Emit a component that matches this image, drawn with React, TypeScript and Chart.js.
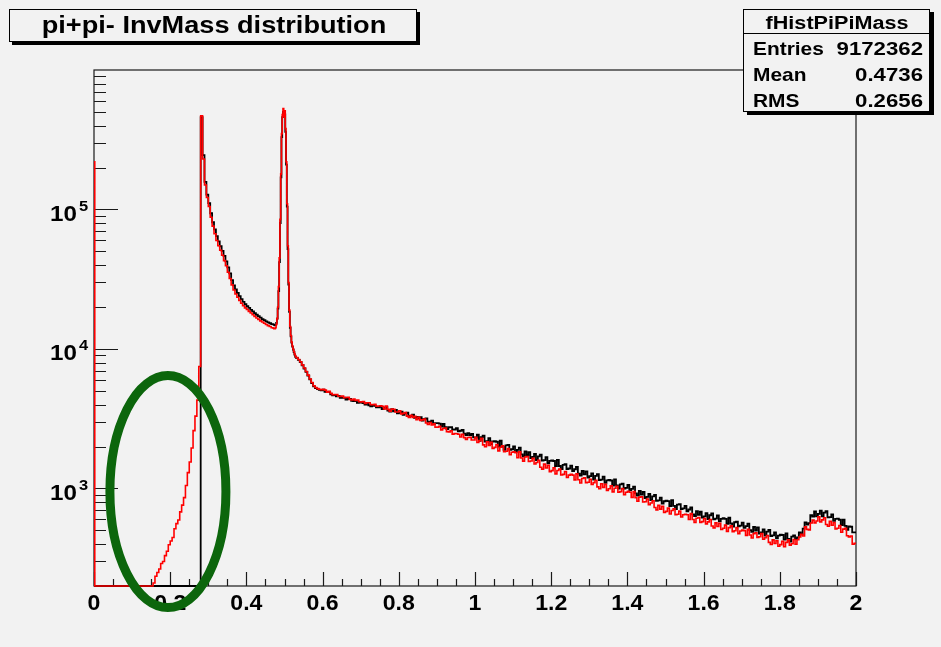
import React, { useEffect, useRef } from "react";
import { Chart, registerables } from "chart.js";

Chart.register(...registerables);

// ---------- axes ----------
const X_MIN = 0;
const X_MAX = 2;
const Y_MIN = 200;
const Y_MAX = 1e6;
const xTickValues = [0, 0.2, 0.4, 0.6, 0.8, 1, 1.2, 1.4, 1.6, 1.8, 2];
const xTickLabels = ["0", "0.2", "0.4", "0.6", "0.8", "1", "1.2", "1.4", "1.6", "1.8", "2"];
const yDecadeValues = [1e3, 1e4, 1e5];
const yDecadeExponents = ["3", "4", "5"];

// ---------- texts ----------
const titleText = "pi+pi- InvMass distribution";
const statsName = "fHistPiPiMass";
const statsLabels = ["Entries", "Mean", "RMS"];
const statsValues = ["9172362", "0.4736", "0.2656"];

// ---------- histogram contents (segments: first low edge, bin width, contents) ----------
const seg0Start = 0;
const seg0Width = 0.002;
const redSeg0 = [220000, 200];
const blackSeg0 = [200, 200];

const segAStart = 0.15;
const segAWidth = 0.005;
const redSegA = [200, 210, 235, 250, 265, 290, 300, 330, 355, 395, 420, 445, 515, 560, 595, 680, 760, 860, 1050, 1300, 1550, 1950, 2600, 3300, 4300, 7500];
const blackSegA = [200, 200, 200, 200, 200, 200, 200, 200, 200, 200, 200, 200, 200, 200, 200, 200, 200, 200, 200, 200, 200, 200, 200, 200, 200, 200];

const segB1Start = 0.28;
const segB1Width = 0.005;
const redSegB1 = [470000, 230000, 150000, 122000, 105000, 88000, 76000, 67000, 60000, 55000, 51000, 47000, 43000, 39500, 35500, 32000, 28800, 26500, 24800, 23500, 22300, 21300, 20400, 19700, 19200, 18600, 18100, 17600, 17100, 16700, 16300, 15900, 15600, 15300, 15000, 14700, 14500, 14200];
const blackSegB1 = [460000, 245000, 158000, 128000, 111000, 94000, 81000, 72000, 64500, 59000, 54500, 50500, 46500, 42500, 38500, 34800, 31200, 28600, 26700, 25200, 23900, 22800, 21800, 21000, 20300, 19700, 19100, 18600, 18100, 17600, 17200, 16800, 16400, 16100, 15800, 15500, 15300, 15100];

const segB2Start = 0.47;
const segB2Width = 0.002;
const redSegB2 = [14100, 14000, 14000, 14200, 15000, 16500, 20000, 28000, 45000, 85000, 180000, 350000, 480000, 530000, 460000, 510000, 380000, 220000, 110000, 55000, 30000, 19000, 14500, 12500, 11200, 10500, 10000, 9600, 9200, 8900];
const blackSegB2 = [15000, 14900, 14800, 14900, 15400, 16500, 19500, 26000, 42000, 80000, 170000, 330000, 460000, 500000, 470000, 480000, 360000, 210000, 105000, 52000, 29000, 18500, 14200, 12300, 11100, 10400, 9900, 9500, 9100, 8800];

const segB3Start = 0.53;
const segB3Width = 0.005;
const redSegB3 = [8700, 8400, 8100, 7700, 7300, 6900, 6500, 6100, 5750, 5450, 5300, 5200, 5150, 5100];
const blackSegB3 = [8650, 8350, 8050, 7650, 7250, 6850, 6450, 6050, 5700, 5400, 5250, 5150, 5100, 5050];

const segCStart = 0.6;
const segCWidth = 0.005;
const redSegC = [
  5138, 5068, 4910, 4981, 4806, 4694, 4724, 4707, 4585, 4574,
  4607, 4481, 4491, 4507, 4356, 4304, 4373, 4283, 4313, 4182,
  4179, 4207, 4078, 4115, 4121, 3995, 3980, 4010, 3891, 3905,
  3918, 3887, 3724, 3897, 3693, 3589, 3707, 3703, 3536, 3537,
  3608, 3428, 3457, 3507, 3303, 3235, 3350, 3232, 3295, 3115,
  3240, 3080, 3105, 3140, 2950, 2880, 2975, 2860, 2905, 2745,
  2752, 2795, 2633, 2692, 2709, 2556, 2547, 2593, 2450, 2477,
  2466, 2446, 2342, 2448, 2317, 2250, 2323, 2326, 2226, 2229,
  2331, 2134, 2202, 2290, 2054, 1993, 2163, 2038, 2142, 1933,
  1970, 2064, 1862, 1974, 2025, 1833, 1851, 1937, 1747, 1818,
  1833, 1808, 1661, 1830, 1656, 1570, 1683, 1695, 1562, 1574,
  1649, 1499, 1535, 1590, 1421, 1377, 1494, 1401, 1466, 1321,
  1343, 1409, 1273, 1346, 1378, 1251, 1262, 1323, 1200, 1247,
  1262, 1246, 1152, 1273, 1156, 1095, 1178, 1191, 1101, 1109,
  1166, 1067, 1101, 1145, 1027, 996, 1082, 1019, 1071, 969,
  995, 1045, 945, 1005, 1039, 941, 950, 998, 902, 939,
  953, 939, 864, 950, 858, 810, 867, 872, 800, 804,
  840, 766, 788, 816, 730, 703, 757, 711, 744, 673,
  686, 723, 656, 696, 716, 648, 653, 688, 624, 648,
  654, 649, 600, 661, 600, 570, 612, 619, 572, 579,
  609, 558, 576, 599, 538, 522, 567, 534, 562, 508,
  519, 546, 493, 524, 541, 491, 498, 524, 475, 496,
  503, 499, 461, 509, 464, 442, 475, 482, 446, 451,
  476, 433, 444, 460, 411, 397, 428, 403, 422, 385,
  396, 419, 382, 411, 428, 393, 402, 431, 398, 429,
  449, 469, 456, 532, 509, 505, 566, 593, 567, 585,
  627, 576, 596, 617, 552, 536, 581, 545, 570, 512,
  519, 542, 486, 511, 519, 458, 450, 457, 398, 404,
];
const blackSegC = [
  5113, 4938, 4912, 4913, 4732, 4644, 4685, 4582, 4606, 4464,
  4458, 4484, 4345, 4382, 4385, 4248, 4229, 4247, 4109, 4130,
  4121, 4090, 3990, 4070, 3950, 3881, 3930, 3919, 3821, 3810,
  3885, 3709, 3759, 3826, 3616, 3560, 3705, 3579, 3652, 3461,
  3485, 3560, 3374, 3459, 3492, 3310, 3313, 3383, 3205, 3256,
  3178, 3244, 3071, 3151, 3183, 3009, 3005, 3065, 2901, 2945,
  2944, 2913, 2783, 2908, 2752, 2668, 2747, 2754, 2640, 2647,
  2706, 2571, 2593, 2627, 2470, 2415, 2497, 2411, 2458, 2325,
  2313, 2428, 2195, 2331, 2396, 2168, 2188, 2300, 2083, 2172,
  2189, 2163, 1997, 2199, 1994, 1894, 2035, 2054, 1896, 1911,
  2006, 1833, 1889, 1961, 1757, 1701, 1844, 1735, 1825, 1651,
  1686, 1768, 1601, 1701, 1749, 1583, 1599, 1678, 1517, 1578,
  1591, 1574, 1450, 1600, 1450, 1377, 1479, 1492, 1377, 1391,
  1460, 1334, 1374, 1426, 1277, 1236, 1339, 1262, 1326, 1199,
  1225, 1284, 1159, 1232, 1267, 1147, 1158, 1216, 1099, 1143,
  1154, 1141, 1051, 1161, 1054, 998, 1071, 1082, 999, 1010,
  1061, 968, 995, 1030, 922, 891, 963, 904, 946, 855,
  872, 915, 827, 877, 901, 815, 822, 861, 778, 810,
  819, 812, 749, 826, 750, 713, 765, 772, 713, 721,
  751, 687, 707, 731, 653, 634, 688, 648, 681, 618,
  632, 666, 603, 643, 663, 601, 609, 641, 581, 606,
  613, 606, 559, 617, 561, 533, 573, 579, 535, 542,
  569, 522, 538, 560, 503, 489, 530, 500, 526, 475,
  484, 509, 460, 490, 504, 456, 461, 485, 440, 460,
  466, 464, 430, 477, 436, 417, 452, 462, 433, 447,
  485, 470, 515, 572, 552, 564, 644, 629, 686, 632,
  657, 695, 632, 671, 689, 621, 624, 651, 586, 606,
  608, 597, 547, 599, 539, 506, 536, 532, 485, 485,
];

type Pt = { x: number; y: number };

function buildSeries(segs: { start: number; width: number; values: number[] }[]): Pt[] {
  const pts: Pt[] = [];
  segs.forEach((s) => {
    s.values.forEach((v, i) => {
      pts.push({ x: Math.round((s.start + i * s.width) * 100000) / 100000, y: v });
    });
  });
  pts.push({ x: X_MAX, y: pts[pts.length - 1].y });
  return pts;
}

const FONT = "'Liberation Sans', Arial, Helvetica, sans-serif";

function drawText(
  ctx: CanvasRenderingContext2D,
  text: string,
  x: number,
  y: number,
  size: number,
  align: CanvasTextAlign,
  sx: number
) {
  ctx.save();
  ctx.font = `bold ${size}px ${FONT}`;
  ctx.fillStyle = "#000";
  ctx.textAlign = align;
  ctx.textBaseline = "alphabetic";
  ctx.translate(x, y);
  ctx.scale(sx, 1);
  ctx.fillText(text, 0, 0);
  ctx.restore();
}

const rootStylePlugin = {
  id: "rootStyle",
  beforeDraw(chart: any) {
    const ctx = chart.ctx as CanvasRenderingContext2D;
    ctx.save();
    ctx.fillStyle = "#f2f2f2";
    ctx.fillRect(0, 0, chart.width, chart.height);
    ctx.restore();
  },
  beforeDatasetsDraw(chart: any) {
    const ctx = chart.ctx as CanvasRenderingContext2D;
    const { left, right, top, bottom } = chart.chartArea;
    const xs = chart.scales.x;
    const ys = chart.scales.y;
    ctx.save();
    ctx.strokeStyle = "#1a1a1a";
    ctx.lineWidth = 1.2;
    ctx.strokeRect(left, top, right - left, bottom - top);
    ctx.beginPath();
    for (let k = 0; k <= 40; k++) {
      const v = k * 0.05;
      const px = Math.round(xs.getPixelForValue(v)) + 0.5;
      const len = k % 4 === 0 ? 14 : 7;
      ctx.moveTo(px, bottom);
      ctx.lineTo(px, bottom - len);
    }
    for (let e = 2; e <= 5; e++) {
      for (let m = 1; m <= 9; m++) {
        const v = m * Math.pow(10, e);
        if (v < Y_MIN || v > Y_MAX) continue;
        const py = Math.round(ys.getPixelForValue(v)) + 0.5;
        const len = m === 1 ? 24 : 12;
        ctx.moveTo(left, py);
        ctx.lineTo(left + len, py);
      }
    }
    ctx.stroke();
    ctx.restore();
  },
  afterDraw(chart: any) {
    const ctx = chart.ctx as CanvasRenderingContext2D;
    const { left, bottom } = chart.chartArea;
    const xs = chart.scales.x;
    const ys = chart.scales.y;

    xTickValues.forEach((v, i) => {
      drawText(ctx, xTickLabels[i], xs.getPixelForValue(v), bottom + 24, 22, "center", 1.05);
    });
    yDecadeValues.forEach((v, i) => {
      const py = ys.getPixelForValue(v);
      drawText(ctx, "10", left - 17, py + 11.5, 22, "right", 1.1);
      drawText(ctx, yDecadeExponents[i], left - 15, py + 1.5, 15, "left", 1.1);
    });

    ctx.save();
    ctx.fillStyle = "#000";
    ctx.fillRect(12, 12, 408, 33);
    ctx.fillStyle = "#f2f2f2";
    ctx.fillRect(9, 9, 408, 33);
    ctx.strokeStyle = "#000";
    ctx.lineWidth = 1;
    ctx.strokeRect(9.5, 9.5, 407, 32);
    ctx.restore();
    drawText(ctx, titleText, 214, 33, 23, "center", 1.18);

    ctx.save();
    ctx.fillStyle = "#000";
    ctx.fillRect(747, 12, 187, 103);
    ctx.fillStyle = "#f2f2f2";
    ctx.fillRect(743, 9, 187, 103);
    ctx.strokeStyle = "#000";
    ctx.lineWidth = 1;
    ctx.strokeRect(743.5, 9.5, 186, 102);
    ctx.beginPath();
    ctx.moveTo(743.5, 33.5);
    ctx.lineTo(929.5, 33.5);
    ctx.stroke();
    ctx.restore();
    drawText(ctx, statsName, 837, 28.5, 18, "center", 1.2);
    const rowBase = [55, 81, 106.5];
    statsLabels.forEach((lab, i) => {
      drawText(ctx, lab, 753, rowBase[i], 18.5, "left", 1.13);
      drawText(ctx, statsValues[i], 923, rowBase[i], 18.5, "right", 1.2);
    });

    ctx.save();
    ctx.strokeStyle = "rgb(12,102,12)";
    ctx.lineWidth = 9;
    ctx.beginPath();
    ctx.ellipse(xs.getPixelForValue(0.194), ys.getPixelForValue(950), 58, 116, 0, 0, Math.PI * 2);
    ctx.stroke();
    ctx.restore();
  },
};

export default function App() {
  const canvasRef = useRef<HTMLCanvasElement | null>(null);

  useEffect(() => {
    if (!canvasRef.current) return;
    const redData = buildSeries([
      { start: seg0Start, width: seg0Width, values: redSeg0 },
      { start: segAStart, width: segAWidth, values: redSegA },
      { start: segB1Start, width: segB1Width, values: redSegB1 },
      { start: segB2Start, width: segB2Width, values: redSegB2 },
      { start: segB3Start, width: segB3Width, values: redSegB3 },
      { start: segCStart, width: segCWidth, values: redSegC },
    ]);
    const blackData = buildSeries([
      { start: seg0Start, width: seg0Width, values: blackSeg0 },
      { start: segAStart, width: segAWidth, values: blackSegA },
      { start: segB1Start, width: segB1Width, values: blackSegB1 },
      { start: segB2Start, width: segB2Width, values: blackSegB2 },
      { start: segB3Start, width: segB3Width, values: blackSegB3 },
      { start: segCStart, width: segCWidth, values: blackSegC },
    ]);

    const chart = new Chart(canvasRef.current, {
      type: "line",
      data: {
        datasets: [
          {
            label: "red",
            data: redData,
            borderColor: "#ff0000",
            borderWidth: 1.6,
            pointRadius: 0,
            stepped: true,
            fill: false,
            clip: 3,
          },
          {
            label: "black",
            data: blackData,
            borderColor: "#000000",
            borderWidth: 1.8,
            pointRadius: 0,
            stepped: true,
            fill: false,
            clip: 3,
          },
        ],
      } as any,
      options: {
        responsive: false,
        maintainAspectRatio: false,
        devicePixelRatio: 1,
        animation: false,
        events: [],
        parsing: false as any,
        normalized: true,
        layout: { padding: { left: 94, right: 85, top: 70, bottom: 61 } },
        scales: {
          x: { type: "linear", min: X_MIN, max: X_MAX, display: false },
          y: { type: "logarithmic", min: Y_MIN, max: Y_MAX, display: false },
        },
        plugins: {
          legend: { display: false },
          tooltip: { enabled: false },
          title: { display: false },
        },
      } as any,
      plugins: [rootStylePlugin],
    });
    return () => chart.destroy();
  }, []);

  return (
    <div style={{ position: "fixed", left: 0, top: 0, width: 941, height: 647 }}>
      <canvas ref={canvasRef} width={941} height={647} style={{ display: "block" }} />
    </div>
  );
}
